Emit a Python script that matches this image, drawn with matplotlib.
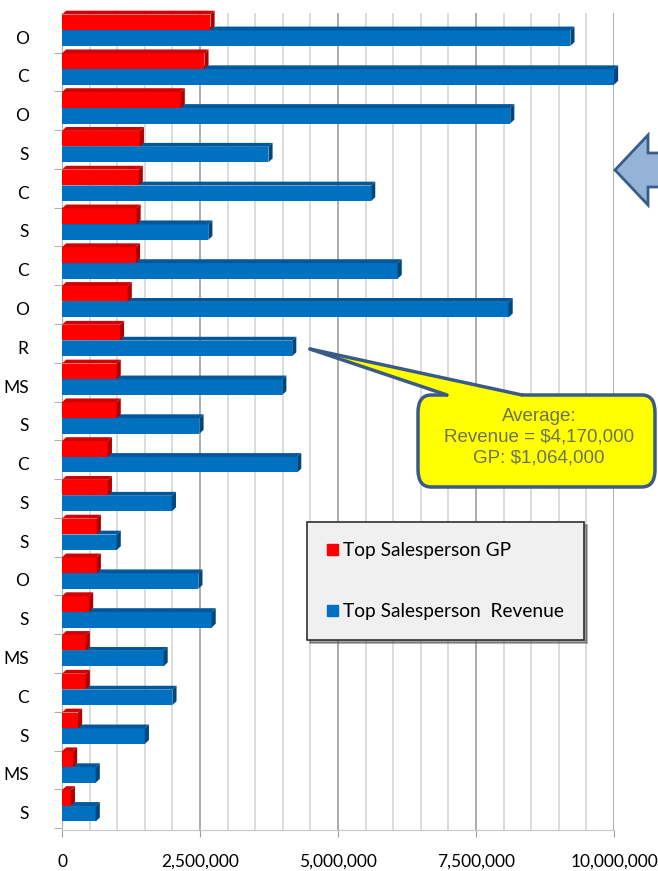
import matplotlib.pyplot as plt
from matplotlib.patches import Polygon, Patch, FancyBboxPatch
from matplotlib.ticker import FuncFormatter, MultipleLocator
import numpy as np

# salespeople, top to bottom as in the chart
names = ["O", "C", "O", "S", "C", "S", "C", "O", "R", "MS", "S",
         "C", "S", "S", "O", "S", "MS", "C", "S", "MS", "S"]
gp = [2.69, 2.58, 2.15, 1.41, 1.39, 1.35, 1.34, 1.19, 1.05, 0.99, 0.99,
      0.83, 0.83, 0.63, 0.63, 0.49, 0.43, 0.43, 0.29, 0.20, 0.16]
revenue = [9.21, 10.0, 8.12, 3.74, 5.60, 2.65, 6.08, 8.09, 4.17, 3.99, 2.49,
           4.26, 1.99, 0.99, 2.47, 2.71, 1.84, 2.00, 1.50, 0.61, 0.61]
xticks = [0, 2500000, 5000000, 7500000, 10000000]

gp = np.array(gp) * 1e6
revenue = np.array(revenue) * 1e6
n = len(names)
y = np.arange(n)[::-1]

W, H = 658, 871
fig = plt.figure(figsize=(W / 100, H / 100), dpi=100)
plt.rcParams['font.family'] = ['Lato', 'DejaVu Sans']
ax = fig.add_axes([62 / W, 1 - 830 / H, (614 - 62) / W, (830 - 13) / H])


def fx(px, py):
    return (px / W, 1 - py / H)


h = 0.4
dx, dy = 75000, 0.1


def bar3d(vals, centers, front, top, side):
    ax.barh(centers, vals, height=h, color=front, zorder=3, clip_on=False)
    for v, c in zip(vals, centers):
        y0, y1 = c - h / 2, c + h / 2
        ax.add_patch(Polygon([(0, y1), (v, y1), (v + dx, y1 + dy), (dx, y1 + dy)],
                             closed=True, facecolor=top, edgecolor='none', zorder=3,
                             clip_on=False))
        ax.add_patch(Polygon([(v, y0), (v, y1), (v + dx, y1 + dy), (v + dx, y0 + dy)],
                             closed=True, facecolor=side, edgecolor='none', zorder=3,
                             clip_on=False))


bar3d(revenue, y - 0.03, '#0070c0', '#005799', '#00477e')
bar3d(gp, y + 0.38, '#ff0000', '#d40000', '#b00000')

ax.set_xlim(0, 10000000)
ax.set_ylim(-0.45, n - 1 + 0.62)

ax.set_xticks(xticks)
ax.xaxis.set_major_formatter(FuncFormatter(lambda v, p: f"{int(v):,}"))
ax.xaxis.set_minor_locator(MultipleLocator(500000))
ax.set_yticks(y)
ax.set_yticklabels(names)
ax.set_yticks(np.arange(n) - 0.4, minor=True)

ax.grid(which='minor', axis='x', color='#d9d9d9', lw=1.3, zorder=0)
ax.grid(which='major', axis='x', color='#a6a6a6', lw=1.3, zorder=0)
ax.tick_params(axis='x', which='major', length=5, pad=12, labelsize=12.5, color='#a0a0a0')
ax.tick_params(axis='x', which='minor', length=0)
ax.tick_params(axis='y', which='major', length=0, pad=24, labelsize=12.5)
ax.tick_params(axis='y', which='minor', length=6, color='#a0a0a0')
for s in ['top', 'right']:
    ax.spines[s].set_visible(False)
ax.spines['left'].set_color('#b0b0b0')
ax.spines['bottom'].set_color('#c8c8c8')

# legend
handles = [Patch(color='#ff0000', label='Top Salesperson GP'),
           Patch(color='#0070c0', label='Top Salesperson  Revenue')]
leg = fig.legend(handles=handles, loc='upper left', bbox_to_anchor=fx(307, 522),
                 frameon=True, fancybox=False, shadow=True, fontsize=13.8,
                 handlelength=0.55, handleheight=0.55, handletextpad=0.3,
                 labelspacing=2.3, borderpad=1.05, borderaxespad=0)
leg.get_frame().set_facecolor('#f0f0f0')
leg.get_frame().set_edgecolor('#303030')
leg.get_frame().set_linewidth(1.2)
leg.get_frame().set_alpha(1)

# callout
yel = '#ffff00'
edge = '#3b5a85'
box = FancyBboxPatch(fx(418, 487), 237 / W, 92 / H, transform=fig.transFigure,
                     boxstyle='round,pad=0,rounding_size=0.02',
                     facecolor=yel, edgecolor=edge, lw=2.5, zorder=5)
fig.patches.append(box)
tip, b1, b2 = fx(310, 349), fx(447, 395), fx(522, 395)
b1i, b2i = fx(449, 399), fx(520, 399)
fig.patches.append(Polygon([tip, b1, b1i, b2i, b2], closed=True, transform=fig.transFigure,
                           facecolor=yel, edgecolor='none', zorder=6))
fig.add_artist(plt.Line2D([tip[0], b1[0]], [tip[1], b1[1]], transform=fig.transFigure,
                          color=edge, lw=2.5, zorder=7, solid_capstyle='round'))
fig.add_artist(plt.Line2D([tip[0], b2[0]], [tip[1], b2[1]], transform=fig.transFigure,
                          color=edge, lw=2.5, zorder=7, solid_capstyle='round'))
fig.text(*fx(539, 437), "Average:\nRevenue = $4,170,000\nGP: $1,064,000",
         ha='center', va='center', fontsize=13.5, color='#6e7358',
         family=['Liberation Sans'], linespacing=1.28, zorder=8)

# block arrow at right edge
arrow = [fx(615, 170), fx(648, 135), fx(648, 153), fx(680, 153),
         fx(680, 187), fx(648, 187), fx(648, 205)]
fig.patches.append(Polygon(arrow, closed=True, transform=fig.transFigure,
                           facecolor='#95b3d7', edgecolor='#385d8a', lw=2, zorder=5))

fig.savefig('out.png', dpi=100)
